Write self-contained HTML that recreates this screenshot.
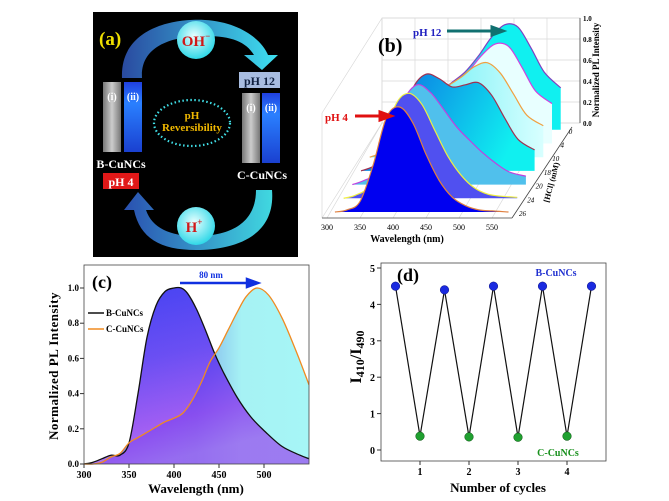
<!DOCTYPE html>
<html><head><meta charset="utf-8">
<style>
html,body{margin:0;padding:0;background:#fff;}
svg{display:block;font-family:"Liberation Serif",serif;}
</style></head>
<body>
<svg id="fig" width="669" height="501" viewBox="0 0 669 501" xmlns="http://www.w3.org/2000/svg">
<defs>
<linearGradient id="arcTop" x1="0" y1="0" x2="1" y2="0"><stop offset="0" stop-color="#2a4aa0"/><stop offset="1" stop-color="#3ee0f0"/></linearGradient>
<linearGradient id="arcBot" x1="1" y1="0" x2="0" y2="0"><stop offset="0" stop-color="#40d8e0"/><stop offset="1" stop-color="#2a50b0"/></linearGradient>
<radialGradient id="ball" cx="0.45" cy="0.4" r="0.6"><stop offset="0" stop-color="#e8ffff"/><stop offset="1" stop-color="#30d8e8"/></radialGradient>
<linearGradient id="cuvB" x1="0" y1="0" x2="0" y2="1"><stop offset="0" stop-color="#2040e0"/><stop offset="0.3" stop-color="#2a80ff"/><stop offset="1" stop-color="#1a40d0"/></linearGradient>
<linearGradient id="cuvG" x1="0" y1="0" x2="1" y2="0"><stop offset="0" stop-color="#777"/><stop offset="0.5" stop-color="#ccc"/><stop offset="1" stop-color="#777"/></linearGradient>
<linearGradient id="bFill" x1="0" y1="0" x2="0.3" y2="1"><stop offset="0" stop-color="#1818f0"/><stop offset="0.45" stop-color="#4a28f0"/><stop offset="0.8" stop-color="#8a3af0"/><stop offset="1" stop-color="#9a60f0"/></linearGradient>
<linearGradient id="cFill" x1="0" y1="0" x2="1" y2="0"><stop offset="0" stop-color="#8a70f0"/><stop offset="0.5" stop-color="#7fb0ec"/><stop offset="0.7" stop-color="#a6f2f4"/><stop offset="1" stop-color="#a6f6f6"/></linearGradient>
<linearGradient id="l3Fill" x1="0" y1="0" x2="1" y2="0.3"><stop offset="0" stop-color="#0a60e0"/><stop offset="1" stop-color="#10f0f0"/></linearGradient>
<linearGradient id="l4Fill" x1="0" y1="0" x2="1" y2="0"><stop offset="0" stop-color="#40e8f0"/><stop offset="1" stop-color="#d8ffff"/></linearGradient>
</defs>

<!-- Panel a -->
<g>
<rect x="93" y="12" width="205" height="245" fill="#000"/>
<path d="M122,78 C120,30 170,18 205,20 C240,22 262,40 268,55 L278,55 L262,70 L244,55 L254,55 C246,42 232,36 205,36 C172,36 140,46 142,78 Z" fill="url(#arcTop)"/>
<path d="M272,190 C276,238 232,250 196,250 C160,250 140,238 134,210 L124,210 L138,192 L154,210 L146,210 C152,228 170,236 196,236 C226,236 256,226 256,190 Z" fill="url(#arcBot)"/>
<circle cx="196" cy="40" r="19" fill="url(#ball)"/>
<text x="196" y="46" text-anchor="middle" font-size="15" font-weight="bold" fill="#d01818">OH<tspan font-size="9" dy="-7">−</tspan></text>
<circle cx="196" cy="226" r="19" fill="url(#ball)"/>
<text x="194" y="232" text-anchor="middle" font-size="15" font-weight="bold" fill="#d01818">H<tspan font-size="9" dy="-7">+</tspan></text>
<text x="99" y="45" font-size="19" font-weight="bold" fill="#f0e000">(a)</text>
<rect x="103" y="82" width="18" height="70" fill="url(#cuvG)"/>
<rect x="124" y="82" width="18" height="70" fill="url(#cuvB)"/>
<text x="112" y="100" text-anchor="middle" font-size="10" font-weight="bold" fill="#fff">(i)</text>
<text x="133" y="100" text-anchor="middle" font-size="10" font-weight="bold" fill="#fff">(ii)</text>
<rect x="242" y="93" width="18" height="70" fill="url(#cuvG)"/>
<rect x="262" y="93" width="18" height="70" fill="url(#cuvB)"/>
<text x="251" y="111" text-anchor="middle" font-size="10" font-weight="bold" fill="#fff">(i)</text>
<text x="271" y="111" text-anchor="middle" font-size="10" font-weight="bold" fill="#fff">(ii)</text>
<rect x="239" y="72" width="41" height="16" fill="#a8bce0"/>
<text x="259.5" y="85" text-anchor="middle" font-size="12" font-weight="bold" fill="#102040">pH 12</text>
<text x="121" y="168" text-anchor="middle" font-size="12" font-weight="bold" fill="#fff">B-CuNCs</text>
<rect x="103" y="173" width="36" height="16" fill="#e01818"/>
<text x="121" y="186" text-anchor="middle" font-size="12" font-weight="bold" fill="#fff">pH 4</text>
<text x="262" y="179" text-anchor="middle" font-size="12" font-weight="bold" fill="#fff">C-CuNCs</text>
<ellipse cx="192" cy="123" rx="38" ry="23" fill="none" stroke="#40e0e8" stroke-width="2.2" stroke-dasharray="1.5,2.5"/>
<text x="192" y="119" text-anchor="middle" font-size="11" font-weight="bold" fill="#f0b800">pH</text>
<text x="192" y="131" text-anchor="middle" font-size="11" font-weight="bold" fill="#f0b800">Reversibility</text>
</g>

<g id="panelB"></g>
<g id="panelC"></g>
<g id="panelD"></g>
</svg>
<script>
// ---------- Panel b data ----------
const bWavelengths = [312,330,350,370,390,410,430,450,470,490,510,530,550,575];
const bLayer0 = [0,0.02,0.1,0.45,0.9,1.0,0.85,0.55,0.3,0.14,0.06,0.02,0.01,0];
const bLayer1 = [0,0.03,0.12,0.45,0.88,1.0,0.9,0.65,0.4,0.22,0.1,0.04,0.02,0.01];
const bLayer2 = [0,0.04,0.12,0.4,0.8,0.95,0.88,0.72,0.55,0.42,0.3,0.2,0.12,0.08];
const bLayer3 = [0,0.04,0.12,0.4,0.78,0.92,0.88,0.8,0.82,0.84,0.72,0.5,0.3,0.2];
const bLayer4 = [0,0.04,0.1,0.3,0.5,0.62,0.68,0.76,0.86,0.9,0.8,0.6,0.4,0.3];
const bLayer5 = [0,0.04,0.1,0.25,0.4,0.5,0.58,0.7,0.85,0.95,0.92,0.72,0.5,0.38];
const bLayer6 = [0,0.04,0.08,0.2,0.35,0.45,0.55,0.7,0.88,1.0,0.98,0.78,0.55,0.4];
const bHCl = ["26","24","20","18","10","4","0"];
const bXTicks = [300,350,400,450,500,550];
const bYTicks = ["0.0","0.2","0.4","0.6","0.8","1.0"];

// ---------- Panel c data ----------
const cWl = [300,310,320,330,340,350,360,370,380,390,400,408,415,425,435,445,455,470,485,500,520,540,550];
const cBValues = [0,0.01,0.03,0.05,0.05,0.12,0.4,0.72,0.9,0.98,1.0,1.0,0.97,0.88,0.76,0.63,0.52,0.38,0.27,0.19,0.1,0.05,0.03];
const cWl2 = [300,310,320,330,340,350,360,370,380,390,400,410,420,430,440,450,460,470,480,492,505,520,535,550];
const cCValues = [0,0,0.01,0.04,0.06,0.12,0.15,0.18,0.21,0.24,0.26,0.29,0.36,0.46,0.58,0.66,0.76,0.86,0.95,1.0,0.96,0.83,0.65,0.45];
const cXTicks = [300,350,400,450,500];
const cYTicks = [0,0.2,0.4,0.6,0.8,1.0];

// ---------- Panel d data ----------
const dBCycles = [0.5,1.5,2.5,3.5,4.5];
const dBValues = [4.5,4.4,4.5,4.5,4.5];
const dCCycles = [1,2,3,4];
const dCValues = [0.38,0.36,0.35,0.38];
const dXTicks = [1,2,3,4];
const dYTicks = [0,1,2,3,4,5];

const NS = "http://www.w3.org/2000/svg";
function mk(parent, tag, attrs, text){
  const e = document.createElementNS(NS, tag);
  for (const k in attrs) e.setAttribute(k, attrs[k]);
  if (text !== undefined) e.textContent = text;
  parent.appendChild(e); return e;
}
function smooth(pts){
  let d = "M"+pts[0][0]+","+pts[0][1];
  for (let i=0;i<pts.length-1;i++){
    const p0=pts[i-1]||pts[i], p1=pts[i], p2=pts[i+1], p3=pts[i+2]||p2;
    const c1=[p1[0]+(p2[0]-p0[0])/6, p1[1]+(p2[1]-p0[1])/6];
    const c2=[p2[0]-(p3[0]-p1[0])/6, p2[1]-(p3[1]-p1[1])/6];
    d+=" C"+c1[0].toFixed(1)+","+c1[1].toFixed(1)+" "+c2[0].toFixed(1)+","+c2[1].toFixed(1)+" "+p2[0].toFixed(1)+","+p2[1].toFixed(1);
  }
  return d;
}

// ---------- Panel b ----------
(function(){
  const g = document.getElementById("panelB");
  const bx = w => 327 + (w-300)*0.66;
  const by = v => 212 - v*105;
  const DX = 8.7, DY = -13.7;
  const grid = mk(g,"g",{stroke:"#d8d8d8","stroke-width":"0.7",fill:"none"});
  
  
  mk(grid,"path",{d:"M382,18 L580,18 L580,123 L382,123 Z M322,218 L382,123 M322,113 L382,18 M322,113 L322,218"});
  for (let i=0;i<6;i++){ const y=18+i*21; mk(grid,"line",{x1:382,y1:y,x2:580,y2:y}); }
  for (const w of bXTicks){ const x=bx(w)+55; mk(grid,"line",{x1:x,y1:18,x2:x,y2:123}); mk(grid,"line",{x1:bx(w),y1:218,x2:x,y2:123}); }
  const layers = [bLayer0,bLayer1,bLayer2,bLayer3,bLayer4,bLayer5,bLayer6];
  const fills = ["#0000f0","#5050f0","#50c0ec","url(#l3Fill)","url(#l4Fill)","#e8ffff","#10f0f0"];
  const strokes = ["#e08040","#f0f040","#c040e0","#a03050","#f0a040","#d040e0","#8040c0"];
  for (let k=layers.length-1;k>=0;k--){
    const vals = layers[k];
    const pts = bWavelengths.map((w,i)=>[bx(w)+k*DX, by(vals[i])+k*DY]);
    const base = 212 + k*DY;
    const last = pts[pts.length-1];
    const d = smooth(pts);
    const area = mk(g,"path",{d:d+" L"+last[0]+","+base+" L"+pts[0][0]+","+base+" Z",fill:fills[k]});
    
    
    const line = mk(g,"path",{d:d,fill:"none",stroke:strokes[k],"stroke-width":"1.2"});
    
    
  }
  const ax = mk(g,"path",{d:"M322,218 L512,218 M512,218 L572,127 M580,18 L580,123",stroke:"#444","stroke-width":"0.8",fill:"none"});
  
  
  for (const w of bXTicks){
    const t = mk(g,"text",{x:bx(w),y:230,"text-anchor":"middle","font-size":"8"},String(w));
    
    
  }
  bYTicks.forEach((s,i)=>{
    const t = mk(g,"text",{x:583,y:126-i*21,"font-size":"7","font-weight":"bold"},s);
    
    
  });
  bHCl.forEach((s,k)=>{
    const t = mk(g,"text",{x:519+k*8.3,y:216+k*DY,"font-size":"7","font-style":"italic"},s);
    
    
  });
  const xt = mk(g,"text",{x:407,y:242,"text-anchor":"middle","font-size":"10","font-weight":"bold"},"Wavelength (nm)");
  
  
  const yt = mk(g,"text",{x:0,y:0,"text-anchor":"middle","font-size":"9","font-weight":"bold",transform:"translate(599,70) rotate(-90)"},"Normalized PL Intensity");
  
  
  const zt = mk(g,"text",{x:0,y:0,"text-anchor":"middle","font-size":"8","font-weight":"bold",transform:"translate(554,183) rotate(-75)"},"[HCl] (mM)");
  
  
  const lb = mk(g,"text",{x:378,y:52,"font-size":"20","font-weight":"bold"},"(b)");
  
  
  const p12 = mk(g,"text",{x:413,y:36,"font-size":"11","font-weight":"bold",fill:"#2020c0"},"pH 12");
  
  
  const a12 = mk(g,"path",{d:"M447,31 L492,31 L492,27 L503,31 L492,35 L492,31",stroke:"#107070","stroke-width":"3",fill:"#107070"});
  
  
  const p4 = mk(g,"text",{x:325,y:121,"font-size":"11","font-weight":"bold",fill:"#e01010"},"pH 4");
  
  
  const a4 = mk(g,"path",{d:"M355,116 L380,116 L380,112 L391,116 L380,120 L380,116",stroke:"#e01010","stroke-width":"3",fill:"#e01010"});
  
  
})();

// ---------- Panel c ----------
(function(){
  const g = document.getElementById("panelC");
  const X = w => 84 + (w-300)*0.9;
  const Y = v => 464 - v*176;
  const clip = mk(g,"clipPath",{id:"cClip"}); mk(clip,"rect",{x:84,y:265,width:225,height:200});
  const inner = mk(g,"g",{"clip-path":"url(#cClip)"});
  const cPts = cWl2.map((w,i)=>[X(w),Y(cCValues[i])]);
  const bPts = cWl.map((w,i)=>[X(w),Y(cBValues[i])]);
  const cd = smooth(cPts), bd = smooth(bPts);
  const cf = mk(inner,"path",{d:cd+" L"+X(550)+","+Y(0)+" L"+X(300)+","+Y(0)+" Z",fill:"url(#cFill)"});
  
  
  const bf = mk(inner,"path",{d:bd+" L"+X(550)+","+Y(0)+" L"+X(300)+","+Y(0)+" Z",fill:"url(#bFill)","fill-opacity":"0.82"});
  
  
  const bl = mk(inner,"path",{d:bd,fill:"none",stroke:"#111","stroke-width":"1.3"});
  
  
  const cl = mk(inner,"path",{d:cd,fill:"none",stroke:"#f08a20","stroke-width":"1.3"});
  
  
  const fr = mk(g,"rect",{x:84,y:265,width:225,height:199,fill:"none",stroke:"#444","stroke-width":"0.8"});
  
  
  for (const w of cXTicks){
    mk(g,"line",{x1:X(w),y1:464,x2:X(w),y2:468,stroke:"#333"});
    const t = mk(g,"text",{x:X(w),y:478,"text-anchor":"middle","font-size":"10","font-weight":"bold"},String(w));
    
    
  }
  for (const v of cYTicks){
    mk(g,"line",{x1:80,y1:Y(v),x2:84,y2:Y(v),stroke:"#333"});
    const t = mk(g,"text",{x:79,y:Y(v)+3,"text-anchor":"end","font-size":"9","font-weight":"bold"},v.toFixed(1));
    
    
  }
  const xt = mk(g,"text",{x:196,y:493,"text-anchor":"middle","font-size":"13","font-weight":"bold"},"Wavelength (nm)");
  
  
  const yt = mk(g,"text",{x:0,y:0,"text-anchor":"middle","font-size":"13","font-weight":"bold","letter-spacing":"0.5",transform:"translate(58,366) rotate(-90)"},"Normalized PL Intensity");
  
  
  const lb = mk(g,"text",{x:92,y:288,"font-size":"18","font-weight":"bold"},"(c)");
  
  
  const l1 = mk(g,"line",{x1:88,y1:313,x2:104,y2:313,stroke:"#111","stroke-width":"1.5"});
  
  
  const t1 = mk(g,"text",{x:106,y:316,"font-size":"9","font-weight":"bold"},"B-CuNCs");
  
  
  const l2 = mk(g,"line",{x1:88,y1:329,x2:104,y2:329,stroke:"#f08a20","stroke-width":"1.5"});
  
  
  const t2 = mk(g,"text",{x:106,y:332,"font-size":"9","font-weight":"bold"},"C-CuNCs");
  
  
  const ar = mk(g,"path",{d:"M180,283 L247,283 L247,279 L258,283 L247,287 L247,283",stroke:"#1030e0","stroke-width":"2.5",fill:"#1030e0"});
  
  
  const at = mk(g,"text",{x:211,y:278,"text-anchor":"middle","font-size":"9","font-weight":"bold",fill:"#1030e0"},"80 nm");
  
  
})();

// ---------- Panel d ----------
(function(){
  const g = document.getElementById("panelD");
  const X = c => 371 + c*49;
  const Y = v => 450 - v*36.4;
  const fr = mk(g,"rect",{x:381,y:263,width:225,height:198,fill:"none",stroke:"#444","stroke-width":"0.8"});
  
  
  for (const c of dXTicks){
    mk(g,"line",{x1:X(c),y1:461,x2:X(c),y2:465,stroke:"#333"});
    const t = mk(g,"text",{x:X(c),y:475,"text-anchor":"middle","font-size":"10","font-weight":"bold"},String(c));
    
    
  }
  for (const v of dYTicks){
    mk(g,"line",{x1:377,y1:Y(v),x2:381,y2:Y(v),stroke:"#333"});
    const t = mk(g,"text",{x:375,y:Y(v)+4,"text-anchor":"end","font-size":"10","font-weight":"bold"},String(v));
    
    
  }
  const all = [];
  dBCycles.forEach((c,i)=>all.push([c,dBValues[i]]));
  dCCycles.forEach((c,i)=>all.push([c,dCValues[i]]));
  all.sort((a,b)=>a[0]-b[0]);
  const ln = mk(g,"polyline",{points:all.map(p=>X(p[0])+","+Y(p[1])).join(" "),fill:"none",stroke:"#111","stroke-width":"1.2"});
  
  
  dBCycles.forEach((c,i)=>{
    const p = mk(g,"circle",{cx:X(c),cy:Y(dBValues[i]),r:4.3,fill:"#1a2ae0",stroke:"#0a1080","stroke-width":"0.5"});
    
    
  });
  dCCycles.forEach((c,i)=>{
    const p = mk(g,"circle",{cx:X(c),cy:Y(dCValues[i]),r:4.3,fill:"#20a030",stroke:"#0a5010","stroke-width":"0.5"});
    
    
  });
  const xt = mk(g,"text",{x:498,y:492,"text-anchor":"middle","font-size":"13","font-weight":"bold"},"Number of cycles");
  
  
  const yt = mk(g,"text",{x:0,y:0,"text-anchor":"middle","font-size":"16","font-weight":"bold",transform:"translate(361,357) rotate(-90)"});
  
  
  yt.innerHTML = 'I<tspan font-size="12" dy="3">410</tspan><tspan dy="-3">/I</tspan><tspan font-size="12" dy="3">490</tspan>';
  const lb = mk(g,"text",{x:397,y:281,"font-size":"18","font-weight":"bold"},"(d)");
  
  
  const bl = mk(g,"text",{x:556,y:276,"text-anchor":"middle","font-size":"10","font-weight":"bold",fill:"#2030d0"},"B-CuNCs");
  
  
  const cl = mk(g,"text",{x:558,y:456,"text-anchor":"middle","font-size":"10","font-weight":"bold",fill:"#18901c"},"C-CuNCs");
  
  
})();
</script>
</body></html>
